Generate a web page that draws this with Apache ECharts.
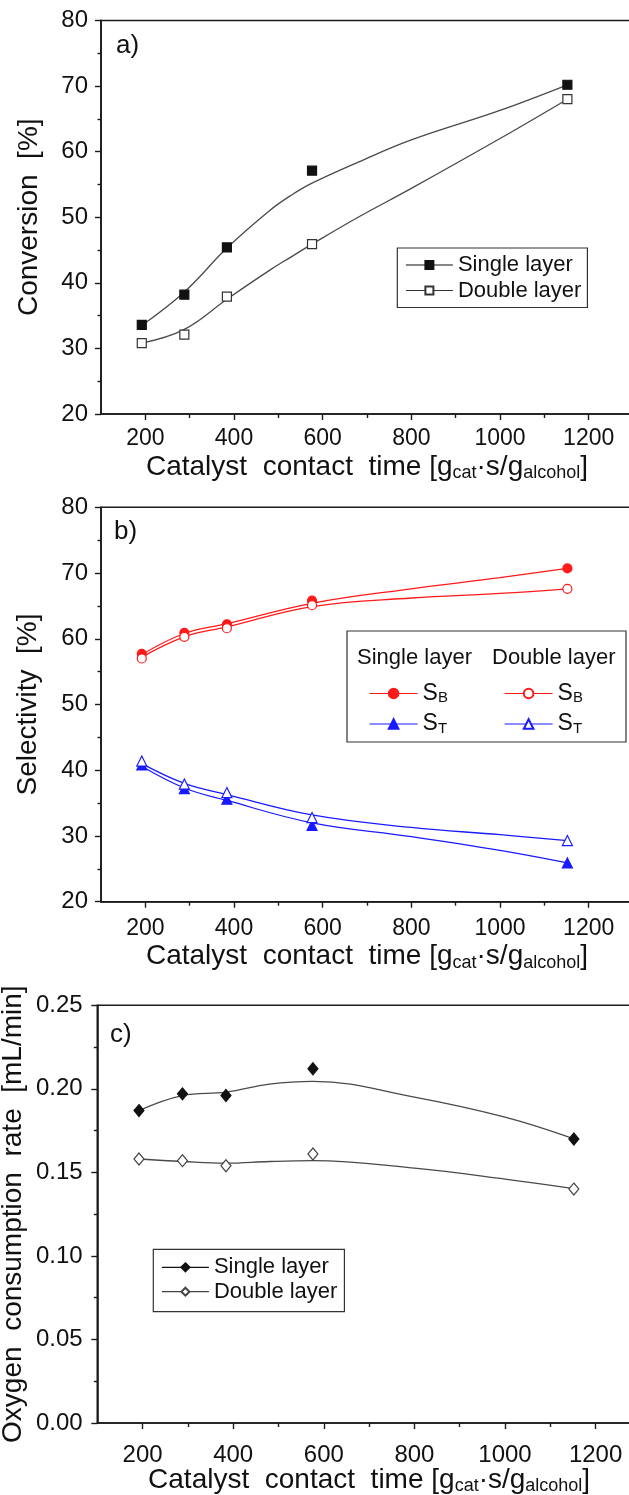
<!DOCTYPE html>
<html>
<head>
<meta charset="utf-8">
<script src="https://cdn.jsdelivr.net/npm/echarts@6/dist/echarts.min.js"></script>
<style>
  html, body { margin: 0; padding: 0; background: #fff; }
  #chart { width: 629px; height: 1495px; }
</style>
</head>
<body>
<div id="chart"></div>
<script>
// measured contact times [gcat.s/galcohol]
var contactTime = [192, 288, 384, 576, 1152];
var fitTimeA = [192, 288, 384, 480, 530, 576, 680, 800, 1000, 1152];
var fitTimeB = [192, 288, 384, 576, 800, 1000, 1152];
var fitTimeC = [192, 288, 384, 480, 576, 800, 1000, 1152];

// a) conversion [%]
var convSingle = [33.6, 38.2, 45.4, 57.1, 70.2];
var convDouble = [30.8, 32.1, 37.9, 45.9, 68.0];
var convSingleFit = [33.5, 38.6, 45.3, 51.0, 53.4, 55.2, 58.4, 61.8, 66.3, 70.2];
var convDoubleFit = [30.8, 32.9, 37.5, 41.9, 44.0, 45.9, 50.0, 54.4, 62.0, 68.0];

// b) selectivity [%]
var sbSingle = [57.7, 60.9, 62.2, 65.8, 70.7];
var sbDouble = [57.0, 60.3, 61.6, 65.1, 67.6];
var stSingle = [40.8, 37.2, 35.6, 31.6, 25.9];
var stDouble = [41.4, 37.9, 36.6, 32.8, 29.3];
var sbSingleFit = [57.6, 60.8, 62.3, 65.4, 67.6, 69.3, 70.7];
var sbDoubleFit = [57.2, 60.3, 61.8, 64.9, 66.2, 66.9, 67.6];
var stSingleFit = [40.6, 37.3, 35.4, 32.0, 29.9, 27.8, 25.9];
var stDoubleFit = [41.0, 38.0, 36.3, 33.2, 31.3, 30.2, 29.3];

// c) oxygen consumption rate [mL/min]
var o2Single = [0.187, 0.197, 0.196, 0.212, 0.170];
var o2Double = [0.158, 0.157, 0.154, 0.161, 0.140];
var o2SingleFit = [0.187, 0.196, 0.198, 0.2028, 0.2045, 0.195, 0.183, 0.170];
var o2DoubleFit = [0.158, 0.1565, 0.1555, 0.1565, 0.157, 0.1525, 0.146, 0.1403];

// axis ticks
var majorTicks = [200, 400, 600, 800, 1000, 1200];
var minorTicks = [300, 500, 700, 900, 1100, 1300];

var FONT = 'Liberation Sans, Arial, sans-serif';
var INK = '#111';
var AXIS = '#1a1a1a';
var GREY = '#4a4a4a';
var RED = '#ff1a1a';
var BLUE = '#1a1aff';

function pairs(xs, ys) {
  var out = [];
  for (var i = 0; i < xs.length; i++) out.push([xs[i], ys[i]]);
  return out;
}

var xTitle = '{m|Catalyst  contact  time [g}{s|cat}{m|·s/g}{s|alcohol}{m|]}';
var xTitleStyle = {
  rich: {
    m: { fontSize: 28, lineHeight: 30, fontFamily: FONT, color: INK },
    s: { fontSize: 18, lineHeight: 18, verticalAlign: 'bottom', fontFamily: FONT, color: INK }
  }
};

function xAxes(grid, labelSize, labelMargin, nameGap) {
  return [{
    gridIndex: grid, type: 'value', min: 100, max: 1300, position: 'bottom',
    axisLine: { show: true, onZero: false, lineStyle: { color: AXIS, width: 1.6 } },
    axisTick: { show: true, inside: false, length: 6, customValues: majorTicks, lineStyle: { color: AXIS, width: 1.4 } },
    axisLabel: {
      customValues: majorTicks, fontSize: labelSize, margin: labelMargin, color: INK, fontFamily: FONT,
      formatter: function (v) { return String(v); }
    },
    splitLine: { show: false },
    name: xTitle, nameLocation: 'middle', nameGap: nameGap, nameMoveOverlap: false,
    nameTextStyle: xTitleStyle
  }, {
    gridIndex: grid, type: 'value', min: 100, max: 1300, position: 'bottom',
    axisLine: { show: false, onZero: false },
    axisTick: { show: true, inside: false, length: 4, customValues: minorTicks, lineStyle: { color: AXIS, width: 1.4 } },
    axisLabel: { show: false },
    splitLine: { show: false }
  }];
}

function yAxis(grid, min, max, step, name, nameGap, labelMargin, fmt) {
  return {
    gridIndex: grid, type: 'value', min: min, max: max, interval: step,
    axisLine: { show: true, onZero: false, lineStyle: { color: AXIS, width: 1.6 } },
    axisTick: { show: true, inside: false, length: 6, lineStyle: { color: AXIS, width: 1.4 } },
    minorTick: { show: true, splitNumber: 2, length: 3.5, lineStyle: { color: AXIS, width: 1.4 } },
    axisLabel: { fontSize: 24, margin: labelMargin, color: INK, fontFamily: FONT, formatter: fmt },
    splitLine: { show: false },
    name: name, nameLocation: 'middle', nameGap: nameGap, nameMoveOverlap: false,
    nameTextStyle: { fontSize: 28, fontFamily: FONT, color: INK }
  };
}

// curve through the trend
function curve(name, xi, yi, xs, ys, color) {
  return {
    name: name, type: 'line', xAxisIndex: xi, yAxisIndex: yi, data: pairs(xs, ys),
    smooth: 0.4, showSymbol: false, silent: true, z: 2,
    lineStyle: { color: color, width: 1.3 }
  };
}

// measured points (line hidden, only the markers show)
function points(name, xi, yi, ys, symbol, size, color, filled) {
  return {
    name: name, type: 'line', xAxisIndex: xi, yAxisIndex: yi, data: pairs(contactTime, ys),
    symbol: symbol, symbolSize: size, showSymbol: true, showAllSymbol: true, z: 5,
    lineStyle: { color: color, width: 1.3, opacity: 0 },
    itemStyle: { color: filled ? color : '#fff', borderColor: color, borderWidth: 1.2, opacity: 1 }
  };
}

var legendLine = { opacity: 1, width: 1.2 };
var subRich = {
  m: { fontSize: 23, lineHeight: 24, fontFamily: FONT, color: INK },
  s: { fontSize: 15, lineHeight: 13, verticalAlign: 'bottom', fontFamily: FONT, color: INK }
};

var option = {
  animation: false,
  backgroundColor: '#fff',
  grid: [
    { left: 101, top: 20.5, width: 532, height: 393.5, show: true, borderColor: AXIS, borderWidth: 1.6, outerBoundsMode: 'none' },
    { left: 101, top: 507.3, width: 532, height: 394.4, show: true, borderColor: AXIS, borderWidth: 1.6, outerBoundsMode: 'none' },
    { left: 97.3, top: 1005.3, width: 543.6, height: 417.7, show: true, borderColor: AXIS, borderWidth: 1.6, outerBoundsMode: 'none' }
  ],
  xAxis: [].concat(xAxes(0, 23, 13, 38), xAxes(1, 23, 15, 40), xAxes(2, 24, 20, 42)),
  yAxis: [
    yAxis(0, 20, 80, 10, 'Conversion  [%]', 58, 13),
    yAxis(1, 20, 80, 10, 'Selectivity  [%]', 59, 13),
    yAxis(2, 0, 0.25, 0.05, 'Oxygen  consumption  rate  [mL/min]', 70, 14.6, function (v) { return v.toFixed(2); })
  ],
  legend: [{
    data: ['Single layer', 'Double layer'],
    left: 397.3, top: 248, orient: 'vertical',
    padding: [6, 6, 6, 8], itemWidth: 47, itemHeight: 10, itemGap: 3.5,
    borderColor: '#333', borderWidth: 1.2,
    lineStyle: legendLine,
    textStyle: { fontSize: 22, lineHeight: 22, color: INK, fontFamily: FONT }
  }, {
    data: ['SB single', 'ST single'],
    left: 369, top: 682, orient: 'vertical',
    padding: 0, itemWidth: 48, itemHeight: 12, itemGap: 7,
    lineStyle: legendLine,
    formatter: function (n) { return '{m|S}{s|' + n.charAt(1) + '}'; },
    textStyle: { color: INK, fontFamily: FONT, rich: subRich }
  }, {
    data: ['SB double', 'ST double'],
    left: 504, top: 682, orient: 'vertical',
    padding: 0, itemWidth: 48, itemHeight: 12, itemGap: 7,
    lineStyle: legendLine,
    formatter: function (n) { return '{m|S}{s|' + n.charAt(1) + '}'; },
    textStyle: { color: INK, fontFamily: FONT, rich: subRich }
  }, {
    data: ['O2 single', 'O2 double'],
    left: 153.3, top: 1249.3, orient: 'vertical',
    padding: [7, 7, 9, 8], itemWidth: 47, itemHeight: 10, itemGap: 2.4,
    borderColor: '#333', borderWidth: 1.2,
    lineStyle: legendLine,
    formatter: function (n) { return n === 'O2 single' ? 'Single layer' : 'Double layer'; },
    textStyle: { fontSize: 22, lineHeight: 22, color: INK, fontFamily: FONT }
  }],
  graphic: [
    { type: 'text', left: 116, top: 33, style: { text: 'a)', fontSize: 26, fontFamily: FONT, fill: INK } },
    { type: 'text', left: 114, top: 519, style: { text: 'b)', fontSize: 26, fontFamily: FONT, fill: INK } },
    { type: 'text', left: 110, top: 1022, style: { text: 'c)', fontSize: 26, fontFamily: FONT, fill: INK } },
    { type: 'rect', shape: { x: 347, y: 631, width: 279, height: 111 }, style: { fill: 'none', stroke: '#333', lineWidth: 1.2 } },
    { type: 'text', left: 357, top: 647, style: { text: 'Single layer', fontSize: 22, fontFamily: FONT, fill: INK } },
    { type: 'text', left: 492, top: 647, style: { text: 'Double layer', fontSize: 22, fontFamily: FONT, fill: INK } }
  ],
  series: [
    curve('conv single fit', 0, 0, fitTimeA, convSingleFit, GREY),
    curve('conv double fit', 0, 0, fitTimeA, convDoubleFit, GREY),
    points('Single layer', 0, 0, convSingle, 'rect', 9, '#111', true),
    points('Double layer', 0, 0, convDouble, 'rect', 9, '#333', false),

    curve('sb single fit', 2, 1, fitTimeB, sbSingleFit, RED),
    curve('sb double fit', 2, 1, fitTimeB, sbDoubleFit, RED),
    curve('st single fit', 2, 1, fitTimeB, stSingleFit, BLUE),
    curve('st double fit', 2, 1, fitTimeB, stDoubleFit, BLUE),
    points('SB single', 2, 1, sbSingle, 'circle', 9, RED, true),
    points('SB double', 2, 1, sbDouble, 'circle', 9, RED, false),
    points('ST single', 2, 1, stSingle, 'triangle', 10, BLUE, true),
    points('ST double', 2, 1, stDouble, 'triangle', 10, BLUE, false),

    curve('o2 single fit', 4, 2, fitTimeC, o2SingleFit, GREY),
    curve('o2 double fit', 4, 2, fitTimeC, o2DoubleFit, GREY),
    points('O2 single', 4, 2, o2Single, 'diamond', [10, 12], '#111', true),
    points('O2 double', 4, 2, o2Double, 'diamond', [10, 12], '#444', false)
  ]
};

var chart = echarts.init(document.getElementById('chart'), null, { renderer: 'canvas' });
chart.setOption(option);
</script>
</body>
</html>
